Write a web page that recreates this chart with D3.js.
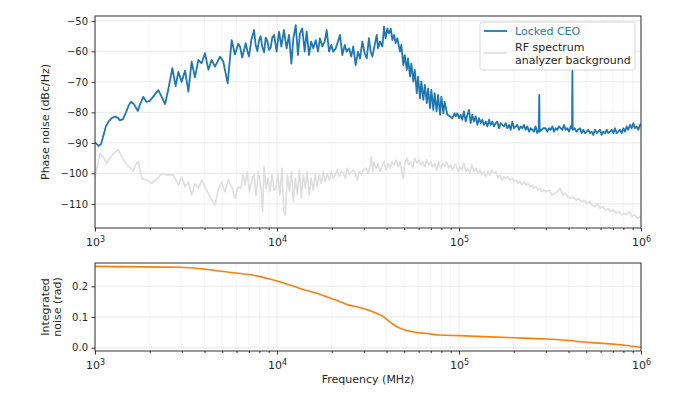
<!DOCTYPE html>
<html><head><meta charset="utf-8">
<script src="https://cdn.jsdelivr.net/npm/d3@7"></script>
<style>body{margin:0;background:#fff}svg{display:block}text{font-family:"DejaVu Sans",sans-serif}</style>
</head><body><svg id="c" width="696" height="400"></svg>
<script>
// ---- data (frequency stored as log10 of Hz) ----
const ceoLogFreq = [
3.000,3.019,3.033,3.049,3.060,3.077,3.093,3.110,3.126,3.137,
3.154,3.170,3.187,3.198,3.214,3.235,3.247,3.265,3.283,3.302,
3.324,3.348,3.363,3.385,3.401,3.425,3.443,3.458,3.476,3.495,
3.513,3.531,3.549,3.568,3.586,3.604,3.623,3.641,3.659,3.676,
3.687,3.705,3.729,3.751,3.769,3.787,3.797,3.809,3.828,3.838,
3.846,3.860,3.874,3.883,3.892,3.901,3.910,3.919,3.929,3.938,
3.947,3.956,3.965,3.974,3.984,3.998,4.011,4.024,4.038,4.053,
4.066,4.079,4.090,4.103,4.115,4.126,4.139,4.152,4.163,4.176,
4.188,4.199,4.213,4.225,4.236,4.249,4.262,4.273,4.286,4.298,
4.309,4.323,4.335,4.346,4.359,4.372,4.383,4.396,4.408,4.419,
4.432,4.445,4.456,4.469,4.482,4.493,4.505,4.515,4.524,4.533,
4.548,4.555,4.566,4.579,4.588,4.597,4.606,4.615,4.625,4.634,
4.643,4.652,4.661,4.676,4.683,4.694,4.702,4.713,4.720,4.731,
4.738,4.749,4.757,4.768,4.775,4.786,4.793,4.804,4.812,4.823,
4.830,4.841,4.848,4.859,4.866,4.877,4.885,4.896,4.903,4.914,
4.921,4.936,4.951,4.963,4.976,4.982,4.991,5.000,5.009,5.018,
5.027,5.037,5.046,5.055,5.064,5.073,5.082,5.092,5.101,5.110,
5.119,5.128,5.137,5.147,5.156,5.165,5.174,5.183,5.192,5.202,
5.210,5.220,5.229,5.238,5.247,5.257,5.265,5.275,5.284,5.293,
5.302,5.312,5.320,5.330,5.339,5.348,5.357,5.366,5.375,5.385,
5.394,5.403,5.412,5.421,5.430,5.438,5.441,5.443,5.452,5.463,
5.476,5.485,5.495,5.504,5.513,5.522,5.531,5.540,5.549,5.559,
5.568,5.577,5.586,5.595,5.604,5.614,5.621,5.623,5.625,5.636,
5.645,5.654,5.665,5.674,5.683,5.692,5.702,5.710,5.720,5.729,
5.738,5.747,5.757,5.765,5.775,5.784,5.793,5.802,5.812,5.820,
5.830,5.839,5.848,5.857,5.866,5.875,5.885,5.894,5.903,5.912,
5.921,5.930,5.940,5.949,5.958,5.967,5.976,5.985,5.995,6.000];
const ceoPhaseNoise = [
-89.8,-91.0,-90.4,-87.0,-84.5,-82.8,-81.8,-81.4,-81.8,-82.6,
-82.2,-80.0,-77.5,-76.5,-77.3,-79.5,-77.5,-74.9,-76.6,-76.2,
-74.5,-72.7,-74.5,-77.3,-73.0,-65.5,-71.4,-66.7,-70.0,-66.3,
-73.2,-63.4,-68.5,-62.8,-63.9,-60.6,-66.0,-62.8,-65.0,-63.0,
-61.7,-63.4,-70.5,-56.3,-61.0,-57.5,-58.5,-62.0,-57.3,-60.0,
-61.6,-56.0,-53.0,-58.0,-59.9,-56.5,-55.0,-58.5,-60.3,-55.5,
-56.6,-59.5,-58.8,-55.5,-54.6,-60.1,-53.5,-58.4,-53.0,-59.0,
-54.6,-64.0,-55.7,-51.4,-61.2,-54.1,-52.5,-60.1,-53.5,-61.2,
-56.8,-59.0,-56.3,-60.1,-55.7,-58.4,-56.8,-53.0,-60.1,-57.9,
-60.1,-59.0,-56.8,-54.6,-61.2,-57.9,-60.1,-59.0,-61.7,-58.4,
-64.5,-60.1,-62.3,-56.8,-60.6,-62.3,-55.7,-60.1,-61.7,-59.0,
-54.6,-59.0,-56.8,-58.4,-51.9,-55.7,-52.5,-54.1,-52.5,-56.3,
-54.6,-57.3,-55.7,-60.1,-57.9,-64.5,-61.2,-66.1,-62.3,-68.3,
-64.0,-69.9,-66.1,-73.7,-68.3,-75.4,-69.9,-75.9,-71.0,-77.0,
-72.1,-78.6,-72.6,-79.2,-73.7,-79.7,-74.3,-80.8,-74.8,-80.3,
-76.5,-80.8,-81.3,-81.9,-80.3,-81.3,-80.3,-81.9,-80.8,-82.4,
-79.7,-83.0,-80.8,-79.2,-83.5,-80.8,-83.0,-81.3,-84.1,-81.9,
-83.5,-82.4,-84.1,-83.0,-84.6,-82.4,-84.1,-83.0,-84.6,-83.5,
-83.0,-85.2,-83.5,-84.1,-84.6,-83.5,-85.2,-84.1,-85.7,-83.0,
-85.2,-84.6,-84.1,-85.7,-84.6,-85.2,-84.1,-85.7,-84.6,-86.3,
-85.2,-85.7,-86.3,-84.6,-86.8,-85.7,-74.3,-86.3,-85.7,-85.2,
-85.2,-86.3,-85.2,-85.7,-84.6,-86.3,-85.2,-85.7,-84.6,-85.2,
-85.7,-84.1,-85.7,-85.2,-86.3,-84.6,-85.2,-66.1,-85.7,-85.2,
-86.3,-85.7,-85.2,-86.8,-85.7,-86.8,-86.3,-85.7,-86.8,-86.3,
-87.4,-85.7,-86.8,-86.3,-85.7,-87.4,-86.3,-86.8,-85.7,-86.8,
-86.3,-85.7,-86.8,-85.2,-86.8,-86.3,-85.7,-86.8,-85.2,-86.3,
-84.6,-85.7,-84.1,-85.2,-83.5,-85.2,-84.6,-85.7,-84.1,-83.9];

const bgLogFreq = [
3.000,3.008,3.027,3.044,3.064,3.082,3.110,3.128,3.147,3.174,
3.192,3.210,3.225,3.238,3.257,3.284,3.312,3.339,3.366,3.394,
3.430,3.458,3.476,3.495,3.513,3.531,3.549,3.568,3.586,3.604,
3.623,3.641,3.659,3.677,3.696,3.714,3.732,3.751,3.769,3.787,
3.801,3.813,3.824,3.837,3.848,3.861,3.874,3.885,3.897,3.910,
3.921,3.929,3.940,3.951,3.962,3.973,3.984,3.995,4.005,4.016,
4.027,4.038,4.046,4.057,4.068,4.079,4.090,4.101,4.112,4.123,
4.134,4.145,4.156,4.166,4.177,4.188,4.199,4.210,4.221,4.232,
4.243,4.254,4.265,4.276,4.287,4.298,4.309,4.320,4.331,4.342,
4.353,4.364,4.375,4.386,4.397,4.408,4.419,4.430,4.441,4.452,
4.463,4.474,4.489,4.500,4.511,4.518,4.526,4.533,4.544,4.555,
4.566,4.577,4.588,4.599,4.610,4.621,4.632,4.643,4.654,4.665,
4.676,4.687,4.694,4.702,4.713,4.724,4.735,4.746,4.757,4.768,
4.779,4.790,4.801,4.812,4.823,4.834,4.845,4.855,4.866,4.877,
4.888,4.899,4.910,4.921,4.932,4.943,4.954,4.965,4.976,4.984,
4.995,5.005,5.016,5.027,5.038,5.049,5.060,5.071,5.082,5.093,
5.104,5.115,5.126,5.137,5.148,5.159,5.170,5.181,5.192,5.203,
5.214,5.225,5.236,5.247,5.258,5.269,5.280,5.291,5.302,5.313,
5.324,5.335,5.346,5.357,5.368,5.379,5.390,5.401,5.412,5.423,
5.434,5.445,5.456,5.467,5.482,5.496,5.511,5.526,5.540,5.555,
5.570,5.584,5.599,5.614,5.628,5.643,5.658,5.672,5.687,5.702,
5.716,5.731,5.746,5.760,5.775,5.790,5.804,5.819,5.834,5.848,
5.863,5.878,5.892,5.907,5.921,5.936,5.951,5.965,5.980,5.995,
6.000];
const bgPhaseNoise = [
-101.6,-99.0,-93.4,-94.5,-96.7,-95.0,-93.0,-92.3,-94.5,-97.2,
-98.0,-99.4,-97.0,-96.2,-101.6,-102.2,-103.3,-101.9,-100.0,-100.5,
-100.5,-103.8,-101.1,-104.4,-102.8,-107.1,-103.3,-105.0,-102.2,-104.4,
-106.6,-108.7,-110.4,-105.5,-102.8,-106.0,-102.2,-104.4,-108.2,-104.4,
-104.9,-100.5,-103.8,-99.5,-106.0,-102.2,-100.5,-107.1,-99.5,-103.8,
-112.5,-97.8,-104.9,-101.6,-106.0,-100.5,-105.5,-104.9,-100.5,-107.1,
-98.3,-112.5,-113.6,-100.5,-106.0,-99.4,-109.3,-101.6,-107.1,-98.9,
-108.2,-100.5,-104.9,-99.4,-107.1,-101.6,-105.5,-100.0,-104.4,-100.5,
-103.3,-99.4,-102.7,-100.0,-102.2,-99.4,-101.6,-100.5,-98.9,-101.1,
-99.4,-100.0,-101.6,-98.3,-100.5,-99.4,-98.9,-100.0,-102.2,-99.4,
-100.5,-98.9,-98.3,-100.0,-97.8,-94.5,-99.4,-96.2,-98.3,-96.7,
-99.4,-97.8,-96.2,-98.9,-96.7,-98.3,-96.2,-97.2,-95.6,-97.8,
-96.2,-100.0,-101.6,-96.7,-95.0,-97.2,-96.2,-98.3,-95.0,-96.7,
-95.6,-97.2,-96.2,-97.8,-95.6,-97.2,-96.2,-97.8,-96.7,-98.9,
-96.2,-98.3,-96.7,-97.8,-96.2,-98.3,-97.2,-98.9,-97.2,-97.2,
-99.4,-97.8,-98.9,-96.7,-99.4,-98.3,-100.0,-97.2,-99.4,-98.3,
-100.0,-98.9,-100.5,-99.4,-101.1,-99.4,-100.5,-98.9,-100.0,-99.4,
-101.6,-100.5,-102.2,-101.1,-101.6,-101.1,-102.2,-101.6,-102.7,-102.2,
-103.3,-102.7,-103.8,-102.7,-103.8,-103.3,-104.4,-103.8,-104.9,-104.4,
-105.5,-104.9,-106.0,-105.5,-106.0,-105.5,-107.1,-106.6,-106.0,-104.9,
-107.1,-106.6,-107.7,-108.2,-107.7,-108.8,-108.2,-109.3,-108.8,-109.9,
-109.3,-110.4,-110.9,-109.9,-111.5,-110.9,-112.0,-111.5,-112.5,-112.0,
-113.1,-112.5,-113.6,-113.1,-113.6,-112.5,-114.2,-113.6,-114.7,-114.2,
-114.9];

const intLogFreq = [3.000,3.467,3.614,3.760,3.870,3.943,4.035,4.126,4.218,4.309,
  4.346,4.383,4.456,4.529,4.584,4.621,4.658,4.694,4.749,4.823,
  4.896,5.005,5.170,5.353,5.482,5.610,5.665,5.812,5.921,6.000];
const intNoise = [0.265,0.262,0.255,0.244,0.236,0.226,0.211,0.193,0.177,0.158,
  0.150,0.141,0.131,0.116,0.101,0.083,0.068,0.059,0.051,0.046,
  0.041,0.039,0.035,0.031,0.028,0.023,0.019,0.013,0.007,0.001];

const xMajorExp = [3,4,5,6];
const yTicksTop = [-110,-100,-90,-80,-70,-60,-50];
const yTicksBottom = [0.0,0.1,0.2];
const seriesNames = ["Locked CEO", ["RF spectrum","analyzer background"]];

// ---- layout ----
const svg = d3.select('#c');
const L = 95, R = 641;
const T1 = 16, B1 = 228, T2 = 263, B2 = 351;
const x = d3.scaleLog().domain([1e3, 1e6]).range([L, R]);
const y1 = d3.scaleLinear().domain([-117.9, -48.4]).range([B1, T1]);
const y2 = d3.scaleLinear().domain([-0.011, 0.276]).range([B2, T2]);
const txt = '#262626', spine = '#333';

const allXTicks = x.ticks();
const xMajor = xMajorExp.map(e => Math.pow(10, e));
const xMinor = allXTicks.filter(v => !xMajor.some(m => Math.abs(m - v) < 1e-6));

function pts(lf, vals) { return lf.map((f, i) => [Math.pow(10, f), vals[i]]); }

function panel(yScale, top, bot, yTicks, fmt, id) {
  const g = svg.append('g');
  // grid
  g.selectAll('.gmin').data(xMinor).join('line')
    .attr('x1', d => x(d)).attr('x2', d => x(d)).attr('y1', top).attr('y2', bot)
    .attr('stroke', '#eeeeee').attr('stroke-width', 0.6);
  g.selectAll('.gmaj').data(xMajor).join('line')
    .attr('x1', d => x(d)).attr('x2', d => x(d)).attr('y1', top).attr('y2', bot)
    .attr('stroke', '#e2e2e2').attr('stroke-width', 0.8);
  g.selectAll('.gy').data(yTicks).join('line')
    .attr('x1', L).attr('x2', R).attr('y1', d => yScale(d)).attr('y2', d => yScale(d))
    .attr('stroke', '#e2e2e2').attr('stroke-width', 0.8);
  svg.append('clipPath').attr('id', id).append('rect')
    .attr('x', L).attr('y', top).attr('width', R - L).attr('height', bot - top);
  // axes
  const ya = svg.append('g').attr('transform', `translate(${L},0)`)
    .attr('font-size', 11).attr('font-family', '"DejaVu Sans",sans-serif').attr('color', txt)
    .call(d3.axisLeft(yScale).tickValues(yTicks).tickSize(3.5).tickPadding(3.5).tickFormat(fmt));
  ya.select('.domain').remove();
  ya.selectAll('line').attr('stroke', spine);
  const xmi = svg.append('g').attr('transform', `translate(0,${bot})`).attr('color', spine)
    .call(d3.axisBottom(x).tickValues(xMinor).tickSize(2).tickFormat(''));
  xmi.select('.domain').remove();
  const xma = svg.append('g').attr('transform', `translate(0,${bot})`).attr('color', spine)
    .call(d3.axisBottom(x).tickValues(xMajor).tickSize(3.5).tickFormat(''));
  xma.select('.domain').remove();
  xma.selectAll('.tick').append('text')
    .attr('y', 18).attr('text-anchor', 'middle').attr('fill', txt).attr('font-size', 11)
    .each(function(d) {
      const t = d3.select(this);
      t.append('tspan').text('10');
      t.append('tspan').attr('font-size', 8).attr('dy', '-0.5em').text(String(Math.round(Math.log10(d))));
    });
  return g;
}

panel(y1, T1, B1, yTicksTop, d3.format('d'), 'clip1');
panel(y2, T2, B2, yTicksBottom, d3.format('.1f'), 'clip2');

// lines
const line1 = d3.line().x(d => x(d[0])).y(d => y1(d[1]));
svg.append('path').datum(pts(ceoLogFreq, ceoPhaseNoise)).attr('clip-path', 'url(#clip1)')
  .attr('d', line1).attr('fill', 'none').attr('stroke', '#1f77b4').attr('stroke-width', 1.8)
  .attr('stroke-linejoin', 'round');
svg.append('path').datum(pts(bgLogFreq, bgPhaseNoise)).attr('clip-path', 'url(#clip1)')
  .attr('d', line1).attr('fill', 'none').attr('stroke', '#dedede').attr('stroke-width', 1.6)
  .attr('stroke-linejoin', 'round');
const line2 = d3.line().x(d => x(d[0])).y(d => y2(d[1])).curve(d3.curveMonotoneX);
svg.append('path').datum(pts(intLogFreq, intNoise)).attr('clip-path', 'url(#clip2)')
  .attr('d', line2).attr('fill', 'none').attr('stroke', '#ff7f0e').attr('stroke-width', 1.6);

// frames
[[T1, B1], [T2, B2]].forEach(([t, b]) => {
  svg.append('rect').attr('x', L).attr('y', t).attr('width', R - L).attr('height', b - t)
    .attr('fill', 'none').attr('stroke', spine).attr('stroke-width', 1);
});

// labels
svg.append('text').attr('transform', `translate(49,${(T1 + B1) / 2}) rotate(-90)`)
  .attr('text-anchor', 'middle').attr('font-size', 11).attr('fill', txt).text('Phase noise (dBc/Hz)');
const yl2 = svg.append('text').attr('transform', `translate(50,${(T2 + B2) / 2}) rotate(-90)`)
  .attr('text-anchor', 'middle').attr('font-size', 11).attr('fill', txt);
yl2.append('tspan').attr('x', 0).attr('dy', '-0.1em').text('Integrated');
yl2.append('tspan').attr('x', 0).attr('dy', '1.1em').text('noise (rad)');
svg.append('text').attr('x', (L + R) / 2).attr('y', 383).attr('text-anchor', 'middle')
  .attr('font-size', 11).attr('fill', txt).text('Frequency (MHz)');

// legend
const lg = svg.append('g');
lg.append('rect').attr('x', 480).attr('y', 22).attr('width', 155).attr('height', 48).attr('rx', 2.5)
  .attr('fill', '#fff').attr('fill-opacity', 0.8).attr('stroke', '#cccccc').attr('stroke-width', 0.8);
lg.append('line').attr('x1', 484).attr('x2', 507).attr('y1', 31).attr('y2', 31)
  .attr('stroke', '#1f77b4').attr('stroke-width', 1.8);
lg.append('text').attr('x', 515).attr('y', 35).attr('font-size', 11).attr('fill', '#1f77b4').text(seriesNames[0]);
lg.append('line').attr('x1', 484).attr('x2', 507).attr('y1', 53).attr('y2', 53)
  .attr('stroke', '#dedede').attr('stroke-width', 1.6);
const t2 = lg.append('text').attr('font-size', 11).attr('fill', txt);
t2.append('tspan').attr('x', 515).attr('y', 50.5).text(seriesNames[1][0]);
t2.append('tspan').attr('x', 515).attr('y', 63.5).text(seriesNames[1][1]);
</script></body></html>
